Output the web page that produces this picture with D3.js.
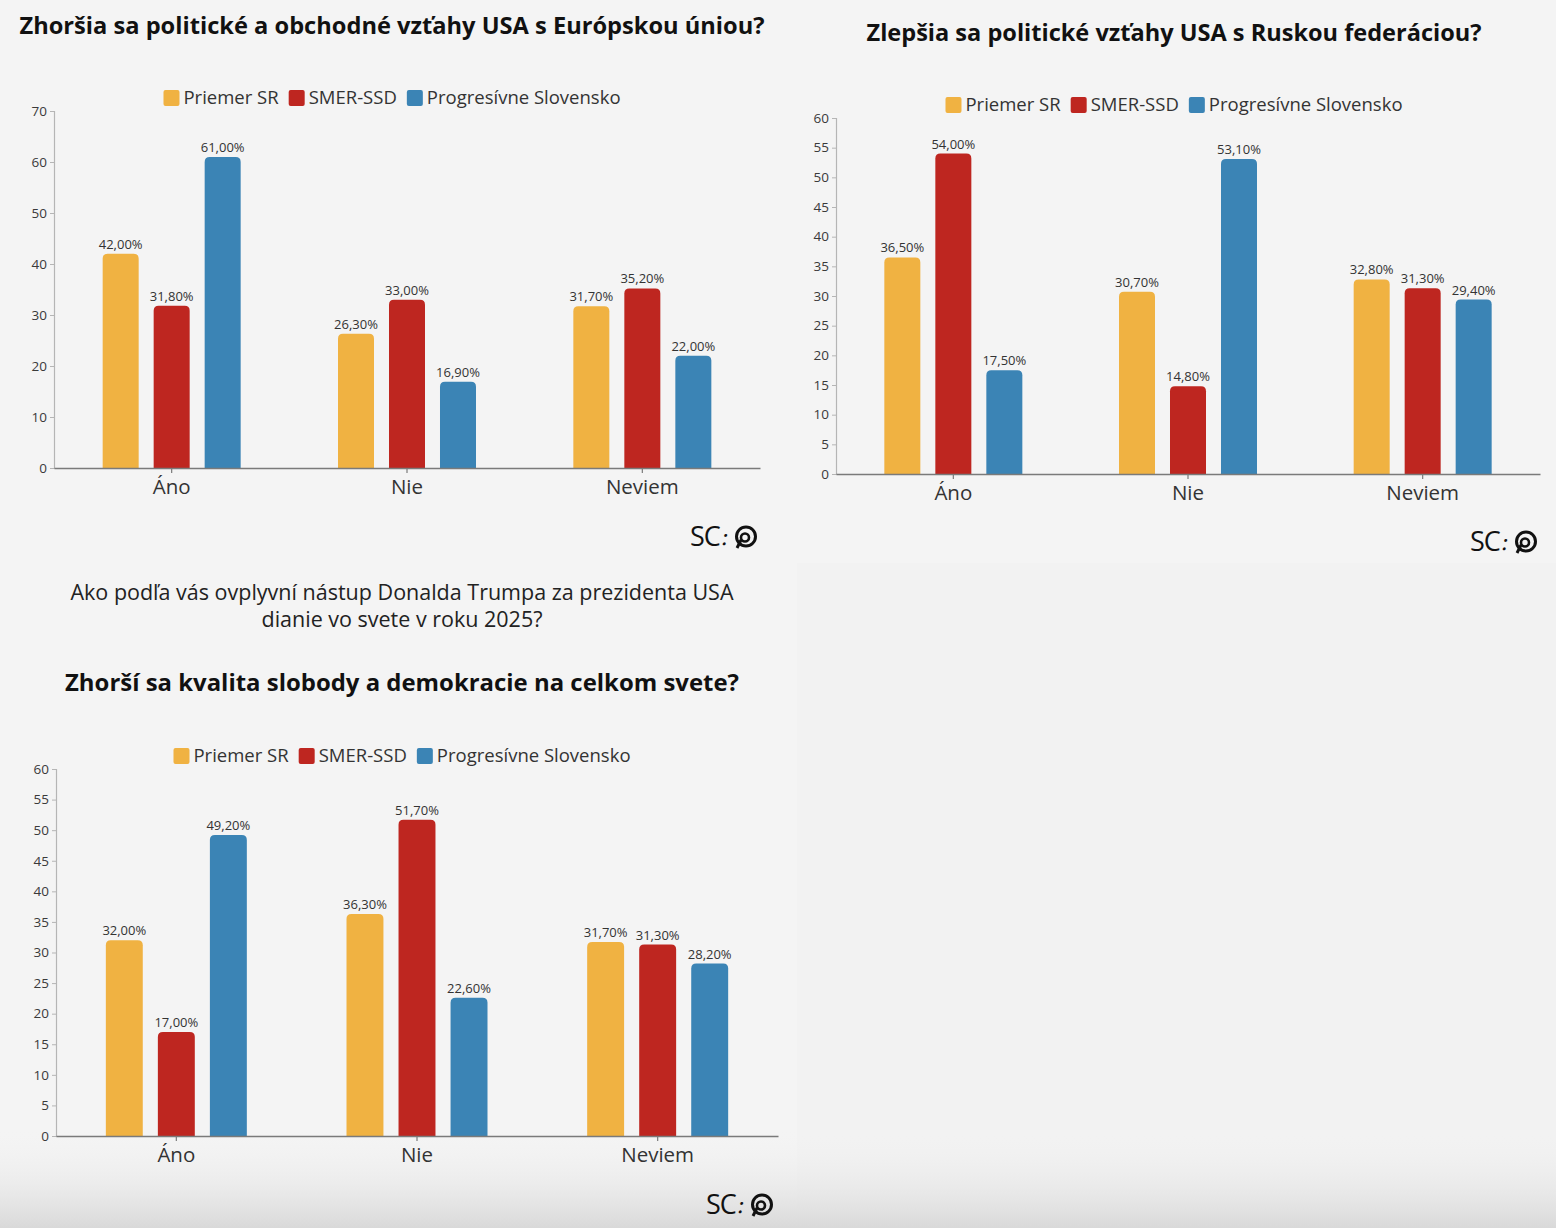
<!DOCTYPE html>
<html>
<head>
<meta charset="utf-8">
<script src="https://cdn.jsdelivr.net/npm/d3@7"></script>
<style>
  html, body { margin: 0; padding: 0; background: #f4f4f4; }
  svg { display: block; }
  text { font-family: "Open Sans", "Noto Sans", sans-serif; }
</style>
</head>
<body>
<svg id="chart" width="1556" height="1228"></svg>
<script>
// ---------- DATA ----------
const categories = ["Áno", "Nie", "Neviem"];
const seriesNames = ["Priemer SR", "SMER-SSD", "Progresívne Slovensko"];
const seriesColors = ["#f0b242", "#be2620", "#3b84b5"];

// Chart 1: Zhoršia sa politické a obchodné vzťahy USA s Európskou úniou?
const euPriemer = [42.0, 26.3, 31.7];
const euSmer    = [31.8, 33.0, 35.2];
const euPS      = [61.0, 16.9, 22.0];
const euTicks   = [0, 10, 20, 30, 40, 50, 60, 70];

// Chart 2: Zlepšia sa politické vzťahy USA s Ruskou federáciou?
const ruPriemer = [36.5, 30.7, 32.8];
const ruSmer    = [54.0, 14.8, 31.3];
const ruPS      = [17.5, 53.1, 29.4];
const ruTicks   = [0, 5, 10, 15, 20, 25, 30, 35, 40, 45, 50, 55, 60];

// Chart 3: Zhorší sa kvalita slobody a demokracie na celkom svete?
const demPriemer = [32.0, 36.3, 31.7];
const demSmer    = [17.0, 51.7, 31.3];
const demPS      = [49.2, 22.6, 28.2];
const demTicks   = [0, 5, 10, 15, 20, 25, 30, 35, 40, 45, 50, 55, 60];

const title1 = "Zhoršia sa politické a obchodné vzťahy USA s Európskou úniou?";
const title2 = "Zlepšia sa politické vzťahy USA s Ruskou federáciou?";
const question3 = ["Ako podľa vás ovplyvní nástup Donalda Trumpa za prezidenta USA", "dianie vo svete v roku 2025?"];
const title3 = "Zhorší sa kvalita slobody a demokracie na celkom svete?";

// ---------- DRAWING ----------
const svg = d3.select("#chart");
const defs = svg.append("defs");
const grad = defs.append("linearGradient").attr("id", "bottomShade")
  .attr("x1", 0).attr("y1", 0).attr("x2", 0).attr("y2", 1);
grad.append("stop").attr("offset", "0%").attr("stop-color", "#f3f3f3").attr("stop-opacity", 0);
grad.append("stop").attr("offset", "100%").attr("stop-color", "#d9d9d9").attr("stop-opacity", 1);

svg.append("rect").attr("width", 1556).attr("height", 1228).attr("fill", "#f4f4f4");
svg.append("rect").attr("x", 797).attr("y", 563).attr("width", 759).attr("height", 665).attr("fill", "#f2f2f2");
svg.append("rect").attr("x", 0).attr("y", 1130).attr("width", 1556).attr("height", 98).attr("fill", "url(#bottomShade)");

const fmt = v => v.toFixed(2).replace(".", ",") + "%";

function topRoundedBar(x, y, w, h, r) {
  r = Math.min(r, h, w / 2);
  return `M${x},${y + h}V${y + r}Q${x},${y} ${x + r},${y}H${x + w - r}Q${x + w},${y} ${x + w},${y + r}V${y + h}Z`;
}

function drawLogo(g, x, y) {
  // x,y = left, baseline
  const lg = g.append("g").attr("transform", `translate(${x},${y})`);
  lg.append("text").attr("x", 0).attr("y", 0).attr("font-size", 27).attr("font-weight", 500)
    .attr("fill", "#111").attr("letter-spacing", -1).text("SC");
  lg.append("text").attr("x", 31).attr("y", -1).attr("font-size", 20).attr("font-weight", 600)
    .attr("fill", "#111").attr("transform", "skewX(-10)").text(":");
  lg.append("circle").attr("cx", 56).attr("cy", -9.5).attr("r", 9.5)
    .attr("fill", "none").attr("stroke", "#111").attr("stroke-width", 3);
  lg.append("circle").attr("cx", 55).attr("cy", -8.5).attr("r", 4)
    .attr("fill", "none").attr("stroke", "#111").attr("stroke-width", 2.6);
  lg.append("path").attr("d", "M51,-6 L47,2").attr("stroke", "#111").attr("stroke-width", 3).attr("fill", "none");
}

function drawPanel(cfg) {
  const g = svg.append("g");
  const values = cfg.series; // array of arrays (per series)

  // Titles
  if (cfg.question) {
    cfg.question.forEach((line, i) => {
      g.append("text").attr("x", cfg.cx).attr("y", cfg.questionY + i * 27)
        .attr("text-anchor", "middle").attr("font-size", 21.5).attr("fill", "#222").text(line);
    });
  }
  g.append("text").attr("x", cfg.cx).attr("y", cfg.titleY).attr("text-anchor", "middle")
    .attr("font-size", 23.5).attr("font-weight", 700).attr("fill", "#111")
    .attr("textLength", cfg.titleW).attr("lengthAdjust", "spacingAndGlyphs").text(cfg.title);

  // Legend (centered)
  const lgG = g.append("g");
  const items = seriesNames.map((name, i) => {
    const it = lgG.append("g");
    it.append("rect").attr("width", 16).attr("height", 16).attr("rx", 2).attr("fill", seriesColors[i]);
    const t = it.append("text").attr("x", 20).attr("y", 14).attr("font-size", 18.5).attr("fill", "#333").text(name);
    return { it, w: 20 + t.node().getComputedTextLength() };
  });
  const gap = 10;
  const total = d3.sum(items, d => d.w) + gap * (items.length - 1);
  let lx = cfg.cx - total / 2;
  items.forEach(d => { d.it.attr("transform", `translate(${lx},${cfg.legendY})`); lx += d.w + gap; });

  // Scales
  const y = d3.scaleLinear().domain([0, cfg.yMax]).range([cfg.y0, cfg.yTop]);
  const x = d3.scaleBand().domain(categories).range([cfg.xLeft, cfg.xRight]);
  const half = cfg.groupW / 2;
  const x1 = d3.scaleBand().domain(seriesNames).range([-half, half]).paddingInner(cfg.padInner);

  // Y axis
  const yAxis = g.append("g").attr("transform", `translate(${cfg.xLeft},0)`)
    .call(d3.axisLeft(y).tickValues(cfg.ticks).tickSize(4).tickPadding(3).tickSizeOuter(4));
  yAxis.select(".domain").attr("stroke", "#b5b5b5").attr("stroke-width", 1.2);
  yAxis.selectAll(".tick line").attr("stroke", "#b5b5b5");
  yAxis.selectAll(".tick text").attr("font-size", 13.5).attr("fill", "#3a3a3a")
    .attr("font-family", "'Open Sans', sans-serif");

  // Bars
  const bars = g.append("g");
  categories.forEach((cat, ci) => {
    seriesNames.forEach((s, si) => {
      const v = values[si][ci];
      const bx = x(cat) + x.bandwidth() / 2 + x1(s);
      const by = y(v);
      const bw = x1.bandwidth();
      bars.append("path").attr("d", topRoundedBar(bx, by, bw, y(0) - by, 5)).attr("fill", seriesColors[si]);
      bars.append("text").attr("x", bx + bw / 2).attr("y", by - 5).attr("text-anchor", "middle")
        .attr("font-size", 13).attr("fill", "#333").text(fmt(v));
    });
  });

  // X axis
  const xAxis = g.append("g").attr("transform", `translate(0,${cfg.y0})`)
    .call(d3.axisBottom(x).tickSize(5).tickPadding(6).tickSizeOuter(0));
  xAxis.select(".domain").attr("stroke", "#7a7a7a").attr("stroke-width", 1.6);
  xAxis.selectAll(".tick line").attr("stroke", "#7a7a7a").attr("stroke-width", 1.2);
  xAxis.selectAll(".tick text").attr("font-size", 20.5).attr("fill", "#333")
    .attr("font-family", "'Open Sans', sans-serif");

  drawLogo(g, cfg.logoX, cfg.logoY);
}

drawPanel({
  title: title1, cx: 392, titleY: 34, titleW: 745, legendY: 90,
  series: [euPriemer, euSmer, euPS], ticks: euTicks, yMax: 70,
  xLeft: 54, xRight: 760, y0: 468, yTop: 111, groupW: 138, padInner: 0.294,
  logoX: 690, logoY: 546
});

drawPanel({
  title: title2, cx: 1174, titleY: 41, titleW: 615, legendY: 97,
  series: [ruPriemer, ruSmer, ruPS], ticks: ruTicks, yMax: 60,
  xLeft: 836, xRight: 1540, y0: 474, yTop: 118, groupW: 138, padInner: 0.294,
  logoX: 1470, logoY: 551
});

drawPanel({
  title: title3, cx: 402, titleY: 691, titleW: 674, legendY: 748,
  question: question3, questionY: 600,
  series: [demPriemer, demSmer, demPS], ticks: demTicks, yMax: 60,
  xLeft: 56, xRight: 778, y0: 1136, yTop: 769, groupW: 141, padInner: 0.29,
  logoX: 706, logoY: 1214
});
</script>
</body>
</html>
